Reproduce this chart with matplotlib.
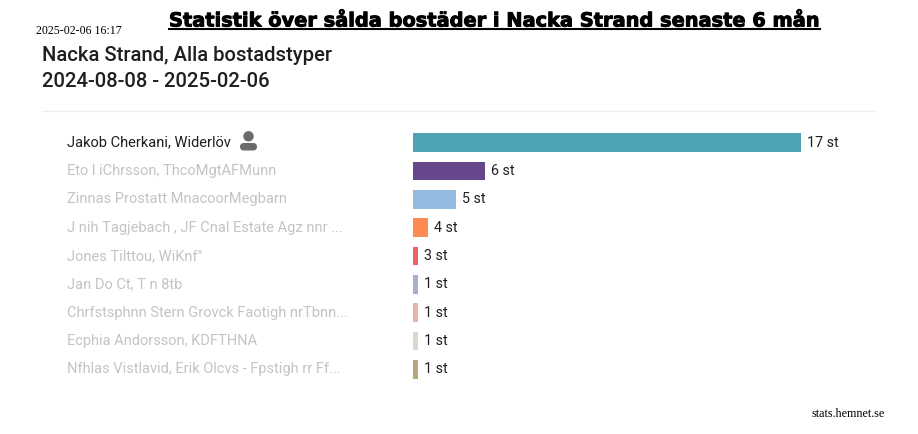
import matplotlib
matplotlib.use('Agg')
import matplotlib.pyplot as plt
import matplotlib.patheffects as pe
from matplotlib.patches import Circle, FancyBboxPatch
import numpy as np

W, H = 918, 434

# first name is readable, the rest are scrambled in the picture so kept as scrambled
agents = ['Jakob Cherkani, Widerlöv',
          'Eto l iChrsson, ThcoMgtAFMunn',
          'Zinnas Prostatt MnacoorMegbarn',
          'J nih Tagjebach , JF Cnal Estate Agz nnr ...',
          'Jones Tilttou, WiKnf"',
          'Jan Do Ct, T n 8tb',
          'Chrfstsphnn Stern Grovck Faotigh nrTbnn...',
          'Ecphia Andorsson, KDFTHNA',
          'Nfhlas Vistlavid, Erik Olcvs - Fpstigh rr Ff...']
counts = [17, 6, 5, 4, 3, 1, 1, 1, 1]
# bar lengths do not follow the counts, these are read off in px
bar_px = [388, 72, 43, 15, 5, 5, 5, 5, 5]
colors = ['#4BA3B3', '#67478C', '#93BBE0', '#FB8A53', '#EC6066',
          '#A4B0CE', '#E9B3AD', '#E0D5CB', '#BCA47E']

title = 'Statistik över sålda bostäder i Nacka Strand senaste 6 mån'
stamp = '2025-02-06 16:17'
heading = ['Nacka Strand, Alla bostadstyper', '2024-08-08 - 2025-02-06']
footer = 'stats.hemnet.se'


def fx(x):
	return x / W


def fy(y):
	return 1 - y / H


fig = plt.figure(figsize=(W / 100, H / 100), dpi=100, facecolor='white')

# header texts
fig.text(fx(169), fy(26.5), title, family='DejaVu Sans', weight='bold', size=13.95,
	color='black', va='baseline', ha='left',
	path_effects=[pe.withStroke(linewidth=0.7, foreground='black')])
fig.add_artist(plt.Line2D([fx(169), fx(820)], [fy(29), fy(29)], color='black', lw=1.5))
fig.text(fx(36), fy(34), stamp, family='Liberation Serif', size=8.6, color='black', va='baseline')
fig.text(fx(42), fy(61), heading[0], family='Roboto', weight='medium', size=14.55, color='#1f1f1f', va='baseline')
fig.text(fx(42), fy(87), heading[1], family='Roboto', weight='medium', size=14.55, color='#1f1f1f', va='baseline')
fig.add_artist(plt.Line2D([fx(42), fx(875)], [fy(111), fy(111)], color='#eeeeee', lw=1))
fig.text(fx(811), fy(417), footer, family='Liberation Serif', size=8.7, color='black', va='baseline')

# bars, axes x runs in px from the bar origin
ax = fig.add_axes([fx(413), fy(383.5), 463 / W, 255 / H])
ypos = np.arange(len(agents))
bars = ax.barh(ypos, bar_px, height=0.67, color=colors, linewidth=0)
ax.set_xlim(0, 463)
ax.set_ylim(len(agents) - 0.5, -0.5)
ax.axis('off')
ax.bar_label(bars, labels=['%d st' % c for c in counts], padding=4.5, family='Roboto', size=10.3, color='#1f1f1f')

for i, name in enumerate(agents):
	col = '#1f1f1f' if i == 0 else '#c4c4c4'
	ax.annotate(name, xy=(0, i), xycoords='data', xytext=(-346 * 0.72, 0), textcoords='offset points',
		family='Roboto', size=10.5, color=col, va='center', ha='left', annotation_clip=False)

# person icon next to the first name
icon = fig.add_axes([0, 0, 1, 1], facecolor='none')
icon.set_xlim(0, W)
icon.set_ylim(H, 0)
icon.axis('off')
icon.add_patch(Circle((248.5, 136.3), 5.2, color='#6b6b6b', lw=0))
icon.add_patch(FancyBboxPatch((242, 145), 13, 3.5, boxstyle='round,pad=2,rounding_size=4',
	color='#6b6b6b', lw=0))

fig.savefig('out.png', dpi=100)
